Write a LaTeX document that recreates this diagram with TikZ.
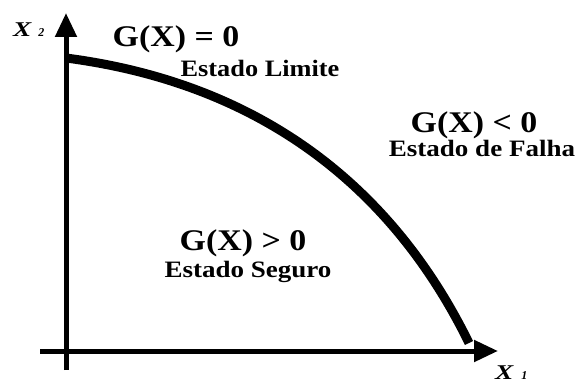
\documentclass[tikz,border=0pt]{standalone}
\usepackage{fontspec}
\usepackage{graphicx}
\setmainfont{Liberation Serif}
\usetikzlibrary{arrows.meta}
\newcommand{\widetxt}[2]{\scalebox{#1}[1]{#2}}
\begin{document}
\begin{tikzpicture}[x=1pt,y=-1pt,
  axis/.style={line width=5pt,-{Triangle[length=24pt,width=21pt]}},
  big/.style={font=\fontsize{30}{32}\selectfont\bfseries,inner sep=0pt,anchor=base},
  small/.style={font=\fontsize{23.5}{25}\selectfont\bfseries,inner sep=0pt,anchor=base},
  axlab/.style={font=\fontsize{21}{22}\selectfont\bfseries\itshape,inner sep=0pt,anchor=base west}]
\useasboundingbox (0,0) rectangle (581,385);
\coordinate (vb) at (66,370);
\coordinate (vt) at (66,13);
\coordinate (hl) at (40,351);
\coordinate (hr) at (498,351);
\draw[axis] (vb) -- (vt);
\draw[axis] (hl) -- (hr);
\coordinate (cs) at (66,58);
\coordinate (ce) at (469,343);
\draw[line width=9pt] (cs) .. controls (266,84) and (395,192) .. (ce);
\node[big] (g0) at (176,47) {\widetxt{1.13}{G(X) = 0}};
\node[small] (el) at (260,77) {\widetxt{1.12}{Estado Limite}};
\node[big] (gn) at (474,132) {\widetxt{1.13}{G(X) < 0}};
\node[small] (ef) at (482,157) {\widetxt{1.15}{Estado de Falha}};
\node[big] (gp) at (243,250) {\widetxt{1.13}{G(X) > 0}};
\node[small] (es) at (248,277) {\widetxt{1.15}{Estado Seguro}};
\node[axlab] (x2) at (13,37) {\widetxt{1.3}{X}\hspace{7pt}{\fontsize{12}{12}\selectfont 2}};
\node[axlab] (x1) at (495,379) {\widetxt{1.3}{X}\hspace{8pt}{\fontsize{12}{12}\selectfont 1}};
\end{tikzpicture}
\end{document}
